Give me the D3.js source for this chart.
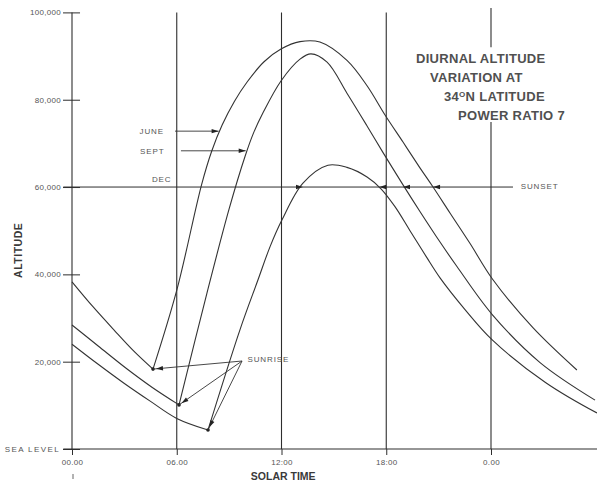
<!DOCTYPE html>
<html lang="en">
<head>
<meta charset="utf-8">
<title>Diurnal altitude variation</title>
<script src="https://cdn.jsdelivr.net/npm/d3@7"></script>
<style>
  body { margin: 0; background: #fff; }
  svg text { font-family: "Liberation Sans", Arial, sans-serif; fill: #3a3a3a; }
  .tick text { font-size: 8px; fill: #555; letter-spacing: 0.3px; }
  .lbl { font-size: 8px; fill: #555; letter-spacing: 0.9px; }
  .ttl { font-size: 13px; font-weight: bold; fill: #505050; letter-spacing: 0.3px; }
</style>
</head>
<body>
<svg id="chart" width="597" height="485"></svg>
<script>
// axis ticks
var hourTicks = [0, 6, 12, 18, 24];
var hourLabels = ["00.00", "06.00", "12:00", "18:00", "0.00"];
var altTicks = [0, 20000, 40000, 60000, 80000, 100000];
var altLabels = ["SEA LEVEL", "20,000", "40,000", "60,000", "80,000", "100,000"];

// [solar hour, altitude ft]; night part before sunrise, then the day run
var juneNight = [[0, 38300], [1.2, 32600], [2.4, 27300], [3.5, 22600], [4.64, 18300]];
var juneDay = [[4.64, 18300], [6.01, 36500], [7.42, 60500], [8.0, 68200], [8.6, 74200],
  [9.3, 79600], [10.02, 84000], [11.0, 88700], [11.97, 91600], [13.06, 93300], [14.2, 93200],
  [15.75, 89000], [16.9, 83200], [17.93, 76500], [18.96, 70300], [19.93, 64400], [20.68, 60000],
  [21.66, 54000], [22.81, 47000], [24.07, 39000], [26.4, 27800], [28.92, 18100]];

var septNight = [[0, 28400], [1.5, 23600], [3.1, 18500], [4.6, 14100], [6.13, 10100]];
var septDay = [[6.13, 10100], [7.73, 35700], [9.0, 55000], [9.91, 67000], [10.4, 72400],
  [10.94, 77000], [11.97, 84300], [13.06, 89300], [13.69, 90500], [14.61, 88600], [15.75, 81500],
  [16.9, 74000], [17.8, 68000], [18.96, 60500], [19.93, 54400], [21.08, 47400], [22.05, 41800],
  [24.07, 30800], [26.81, 19800], [29.96, 11200]];

var decNight = [[0, 24000], [1.5, 19400], [3, 15000], [4.5, 10900], [6, 7000], [7.79, 4350]];
var decDay = [[7.79, 4350], [9.62, 27300], [10.65, 38700], [11.34, 46300], [12.03, 52500],
  [13.23, 60900], [14.66, 65000], [15.75, 64500], [16.9, 62300], [17.7, 59600], [18.5, 55500],
  [19.36, 50000], [20.3, 44000], [21.08, 39200], [22.5, 32000], [24.07, 25000], [27.1, 15300],
  [30.07, 8250]];

var sunrise = [juneDay[0], septDay[0], decDay[0]];
var sunsetHours = [17.6, 18.96, 20.68];   // where each curve crosses 60,000 ft

var svg = d3.select("#chart");
var x = d3.scaleLinear().domain([0, 24]).range([72, 491]);
var y = d3.scaleLinear().domain([0, 100000]).range([449, 12.4]);
var ink = "#2e2e2e";

// vertical time lines (the midnight one stops for the title)
hourTicks.forEach(function (h) {
  var runs = h === 24 ? [[101000, 92000], [74900, 0]] : [[100000, 0]];
  runs.forEach(function (r) {
    svg.append("line")
      .attr("x1", x(h)).attr("x2", x(h))
      .attr("y1", y(r[0])).attr("y2", y(r[1]))
      .attr("stroke", ink).attr("stroke-width", 1.1);
  });
});

// horizontal lines: sea level and the 60,000 ft sunset/sunrise level
svg.append("line").attr("x1", x(-0.5)).attr("x2", x(30.1)).attr("y1", y(0)).attr("y2", y(0))
  .attr("stroke", ink).attr("stroke-width", 1.1);
svg.append("line").attr("x1", x(-0.5)).attr("x2", x(25.26)).attr("y1", y(60000)).attr("y2", y(60000))
  .attr("stroke", ink).attr("stroke-width", 1);

// y axis
var yAxis = svg.append("g")
  .attr("transform", "translate(" + x(0.46) + ",0)")
  .call(d3.axisLeft(y).tickValues(altTicks).tickSize(17).tickPadding(2)
    .tickFormat(function (d, i) { return altLabels[i]; }));
yAxis.select(".domain").remove();
yAxis.selectAll(".tick line").attr("stroke", ink);
yAxis.selectAll(".tick text").filter(function (d) { return d === 0; })
  .style("letter-spacing", "1.4px").attr("dx", -1);

// x axis
var xAxis = svg.append("g")
  .attr("transform", "translate(0," + y(0) + ")")
  .call(d3.axisBottom(x).tickValues(hourTicks).tickSize(6).tickPadding(4)
    .tickFormat(function (d, i) { return hourLabels[i]; }));
xAxis.select(".domain").remove();
xAxis.selectAll(".tick line").attr("stroke", ink);
svg.append("line").attr("x1", x(0) + 1).attr("x2", x(0) + 1).attr("y1", 474).attr("y2", 479)
  .attr("stroke", "#666");

// axis titles
svg.append("text").attr("x", x(12.1)).attr("y", 480).attr("text-anchor", "middle")
  .style("font-size", "10.5px").style("font-weight", "bold").text("SOLAR TIME");
svg.append("text").attr("transform", "translate(22," + y(45500) + ") rotate(-90)")
  .attr("text-anchor", "middle").style("font-size", "10.5px").style("font-weight", "bold")
  .style("letter-spacing", "0.5px").text("ALTITUDE");

// curves
var line = d3.line()
  .x(function (d) { return x(d[0]); })
  .y(function (d) { return y(d[1]); })
  .curve(d3.curveCatmullRom.alpha(0.5));
[juneNight, juneDay, septNight, septDay, decNight, decDay].forEach(function (s) {
  svg.append("path").datum(s).attr("d", line)
    .attr("fill", "none").attr("stroke", "#333").attr("stroke-width", 1.1);
});

// arrow helpers
function head(tx, ty, fx, fy) {
  var a = Math.atan2(ty - fy, tx - fx), L = 7, w = 2.2;
  var bx = tx - L * Math.cos(a), by = ty - L * Math.sin(a);
  var p = [[tx, ty], [bx - w * Math.sin(a), by + w * Math.cos(a)], [bx + w * Math.sin(a), by - w * Math.cos(a)]];
  svg.append("path").attr("d", "M" + p.join("L") + "Z").attr("fill", "#222");
}
function arrow(h0, a0, h1, a1) {
  svg.append("line").attr("x1", x(h0)).attr("y1", y(a0)).attr("x2", x(h1)).attr("y2", y(a1))
    .attr("stroke", "#333").attr("stroke-width", 0.9);
  head(x(h1), y(a1), x(h0), y(a0));
}

// legend arrows
arrow(5.9, 72800, 8.4, 72800);
arrow(6.24, 68300, 9.95, 68300);
head(x(13.23), y(60000), x(12), y(60000));
svg.append("text").attr("class", "lbl").attr("x", x(5.27)).attr("y", y(72800)).attr("dy", "0.35em")
  .attr("text-anchor", "end").text("JUNE");
svg.append("text").attr("class", "lbl").attr("x", x(5.3)).attr("y", y(68300)).attr("dy", "0.35em")
  .attr("text-anchor", "end").text("SEPT");
svg.append("text").attr("class", "lbl").attr("x", x(5.7)).attr("y", y(61700)).attr("dy", "0.35em")
  .attr("text-anchor", "end").text("DEC");

// sunset arrowheads
sunsetHours.forEach(function (h) {
  head(x(h), y(60000), x(h + 2), y(60000));
});
svg.append("text").attr("class", "lbl").attr("x", x(25.7)).attr("y", y(60300)).attr("dy", "0.35em")
  .text("SUNSET");

// sunrise markers and arrows
var srFrom = [9.74, 20150];
sunrise.forEach(function (p) {
  svg.append("circle").attr("cx", x(p[0])).attr("cy", y(p[1])).attr("r", 1.8).attr("fill", "#222");
  var dx = x(p[0]) - x(srFrom[0]), dy = y(p[1]) - y(srFrom[1]);
  var len = Math.sqrt(dx * dx + dy * dy);
  svg.append("line").attr("x1", x(srFrom[0])).attr("y1", y(srFrom[1]))
    .attr("x2", x(p[0])).attr("y2", y(p[1])).attr("stroke", "#333").attr("stroke-width", 0.9);
  head(x(p[0]) - dx / len * 3, y(p[1]) - dy / len * 3, x(srFrom[0]), y(srFrom[1]));
});
svg.append("text").attr("class", "lbl").attr("x", x(10.05)).attr("y", y(20600)).attr("dy", "0.35em")
  .text("SUNRISE");

// title block
var title = svg.append("text").attr("class", "ttl");
title.append("tspan").attr("x", 416).attr("y", 63).text("DIURNAL ALTITUDE");
title.append("tspan").attr("x", 430).attr("y", 82).text("VARIATION AT");
title.append("tspan").attr("x", 444).attr("y", 101).text("34");
title.append("tspan").attr("dy", -4.5).style("font-size", "8px").text("O");
title.append("tspan").attr("dy", 4.5).text("N LATITUDE");
title.append("tspan").attr("x", 458).attr("y", 120).text("POWER RATIO 7");
</script>
</body>
</html>
